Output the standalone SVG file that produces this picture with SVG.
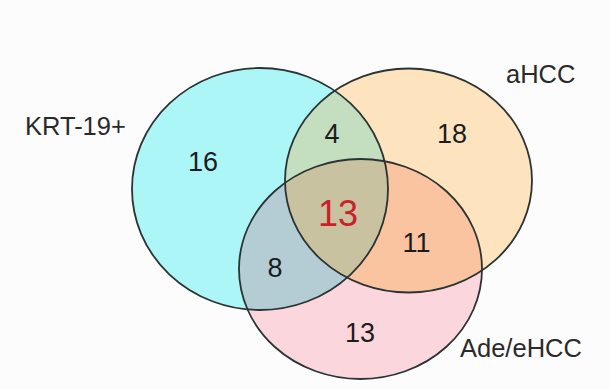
<svg xmlns="http://www.w3.org/2000/svg" width="610" height="389" viewBox="0 0 610 389">
  <style>
    .outline { fill: none; stroke: #2b3333; stroke-width: 1.8; }
    .num { font-family: "Liberation Sans", Arial, sans-serif; font-size: 27px; fill: #1c1c1c; text-anchor: middle; }
    .lbl { font-family: "Liberation Sans", Arial, sans-serif; font-size: 25.5px; fill: #2a2a2a; }
  </style>
  <defs>
    <clipPath id="clip-krt"><ellipse cx="260" cy="189" rx="128" ry="121"/></clipPath>
    <clipPath id="clip-ahcc"><ellipse cx="408.5" cy="180.5" rx="123.5" ry="112"/></clipPath>
  </defs>

  <rect width="610" height="389" fill="#fcfcfc"/>

  <!-- set fills -->
  <g id="fills">
    <ellipse cx="260" cy="189" rx="128" ry="121" fill="#adf6f8"/>
    <ellipse cx="408.5" cy="180.5" rx="123.5" ry="112" fill="#fde4be"/>
    <ellipse cx="360.5" cy="269" rx="121.5" ry="110" fill="#fbd6dc"/>
  </g>

  <!-- overlap regions -->
  <g id="overlaps">
    <ellipse cx="408.5" cy="180.5" rx="123.5" ry="112" fill="#c4dec0" clip-path="url(#clip-krt)"/>
    <ellipse cx="360.5" cy="269" rx="121.5" ry="110" fill="#b4cdd4" clip-path="url(#clip-krt)"/>
    <ellipse cx="360.5" cy="269" rx="121.5" ry="110" fill="#fac4a0" clip-path="url(#clip-ahcc)"/>
    <g clip-path="url(#clip-krt)">
      <ellipse cx="360.5" cy="269" rx="121.5" ry="110" fill="#c8c2a0" clip-path="url(#clip-ahcc)"/>
    </g>
  </g>

  <g id="krt19">
    <ellipse class="outline" cx="260" cy="189" rx="128" ry="121"/>
    <text class="lbl" x="25" y="135">KRT-19+</text>
    <text class="num" x="203" y="171">16</text>
  </g>

  <g id="ahcc">
    <ellipse class="outline" cx="408.5" cy="180.5" rx="123.5" ry="112"/>
    <text class="lbl" x="506" y="83">aHCC</text>
    <text class="num" x="452" y="143">18</text>
  </g>

  <g id="ade-ehcc">
    <ellipse class="outline" cx="360.5" cy="269" rx="121.5" ry="110"/>
    <text class="lbl" x="460" y="357">Ade/eHCC</text>
    <text class="num" x="360" y="342">13</text>
  </g>

  <g id="intersections">
    <text class="num" x="332" y="143">4</text>
    <text class="num" x="275" y="277">8</text>
    <text class="num" x="416.5" y="252">11</text>
    <text class="num" x="338" y="226" style="font-size:36px; fill:#cc1f2a">13</text>
  </g>
</svg>
